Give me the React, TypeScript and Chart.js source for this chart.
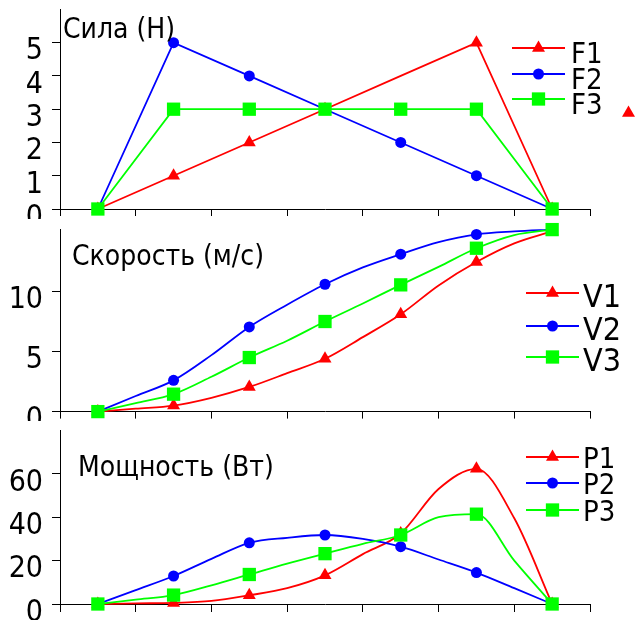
import React, { useEffect, useRef } from "react";
import { Chart, registerables } from "chart.js";

Chart.register(...registerables);

const FONT = '"DejaVu Sans Condensed", "Liberation Sans Narrow", "DejaVu Sans", sans-serif';

// ---------- data ----------
const forceX = [0.5, 1.5, 2.5, 3.5, 4.5, 5.5, 6.5];
const F1 = [0, 1, 2, 3, 4, 5, 0];
const F2 = [0, 5, 4, 3, 2, 1, 0];
const F3 = [0, 3, 3, 3, 3, 3, 0];
const F1NoMarker = [4];

const curveX = [0.5, 1, 1.5, 2, 2.5, 3, 3.5, 4, 4.5, 5, 5.5, 6, 6.5];
const V1 = [0, 0.25, 0.5, 1.15, 2.05, 3.2, 4.4, 6.2, 8.1, 10.5, 12.45, 14.0, 15.0];
const V2 = [0, 1.3, 2.6, 4.7, 7.05, 8.9, 10.6, 12.0, 13.1, 14.1, 14.75, 15.0, 15.15];
const V3 = [0, 0.7, 1.45, 2.9, 4.5, 5.9, 7.5, 9.0, 10.55, 12.05, 13.6, 14.7, 15.15];

const P1 = [0, 0.3, 0.5, 1.4, 4, 7.3, 13.2, 23, 32.5, 53, 62.3, 39.5, 0];
const P2 = [0, 6.4, 12.9, 20.8, 28.2, 30.5, 31.8, 30, 26.4, 20.5, 14.5, 7.3, 0];
const P3 = [0, 2, 4.1, 8.6, 13.6, 18.6, 23.2, 27.7, 31.8, 40, 41.4, 20, 0];

const forceTicks = [0, 1, 2, 3, 4, 5];
const speedTicks = [0, 5, 10];
const powerTicks = [0, 20, 40, 60];

const forceLabels = ["F1", "F2", "F3"];
const speedLabels = ["V1", "V2", "V3"];
const powerLabels = ["P1", "P2", "P3"];

const forceTitle = "Сила (Н)";
const speedTitle = "Скорость (м/с)";
const powerTitle = "Мощность (Вт)";

// ---------- styles ----------
const COLORS = ["#ff0000", "#0000ff", "#00ff00"];
const STYLES = ["triangle", "circle", "rect"];
const RADII = [7.5, 5.5, 9.4];

function drawMarker(ctx: CanvasRenderingContext2D, style: string, x: number, y: number, r: number, color: string) {
  ctx.save();
  ctx.fillStyle = color;
  ctx.beginPath();
  if (style === "triangle") {
    ctx.moveTo(x, y - r);
    ctx.lineTo(x + r * Math.sin((2 * Math.PI) / 3), y - r * Math.cos((2 * Math.PI) / 3));
    ctx.lineTo(x + r * Math.sin((4 * Math.PI) / 3), y - r * Math.cos((4 * Math.PI) / 3));
    ctx.closePath();
  } else if (style === "circle") {
    ctx.arc(x, y, r, 0, Math.PI * 2);
  } else {
    const s = r * Math.SQRT1_2;
    ctx.rect(x - s, y - s, 2 * s, 2 * s);
  }
  ctx.fill();
  ctx.restore();
}

const decorPlugin = {
  id: "panelDecor",
  afterDatasetsDraw(chart: any, _args: any, opts: any) {
    const ctx: CanvasRenderingContext2D = chart.ctx;
    ctx.save();
    ctx.fillStyle = "#000";
    ctx.textBaseline = "alphabetic";
    ctx.textAlign = "left";
    ctx.font = `${opts.titleSize}px ${FONT}`;
    ctx.fillText(opts.title, opts.titleX, opts.titleY);
    ctx.font = `${opts.legendSize}px ${FONT}`;
    opts.labels.forEach((label: string, i: number) => {
      const y = opts.legendY[i];
      ctx.strokeStyle = COLORS[i];
      ctx.lineWidth = 1.8;
      ctx.beginPath();
      ctx.moveTo(opts.lineX0, y);
      ctx.lineTo(opts.lineX1, y);
      ctx.stroke();
      drawMarker(ctx, STYLES[i], (opts.lineX0 + opts.lineX1) / 2, y, RADII[i], COLORS[i]);
      ctx.fillStyle = "#000";
      ctx.fillText(label, opts.textX, y + opts.textDy);
    });
    if (opts.extra) {
      const y = opts.legendY[2] + opts.extra.dy;
      drawMarker(ctx, STYLES[0], (opts.lineX0 + opts.lineX1) / 2 + opts.extra.dx, y, RADII[0], COLORS[0]);
    }
    ctx.restore();
  },
};

type Panel = {
  height: number;
  padTop: number;
  xAxisH: number;
  xTickLen: number;
  yMax: number;
  yTicks: number[];
  x: number[];
  series: number[][];
  labels: string[];
  smooth: boolean;
  hidden?: number[][];
  decor: any;
};

function buildConfig(p: Panel): any {
  const markerEvery = p.x.length > 7 ? 2 : 1;
  return {
    type: "line",
    data: {
      datasets: p.series.map((vals, i) => ({
        label: p.labels[i],
        data: p.x.map((x, j) => ({ x, y: vals[j] })),
        borderColor: COLORS[i],
        backgroundColor: COLORS[i],
        pointBorderColor: COLORS[i],
        pointBackgroundColor: COLORS[i],
        pointStyle: STYLES[i],
        pointBorderWidth: 0,
        pointRadius: p.x.map((_, j) => {
          if (j % markerEvery !== 0) return 0;
          const mi = j / markerEvery;
          if (p.hidden && p.hidden[i] && p.hidden[i].includes(mi)) return 0;
          return RADII[i];
        }),
        borderWidth: 1.8,
        cubicInterpolationMode: p.smooth ? "monotone" : "default",
        tension: 0,
        fill: false,
        clip: false,
        order: 2 - i,
      })),
    },
    options: {
      responsive: false,
      animation: false,
      events: [],
      layout: { padding: { top: p.padTop, bottom: 0, left: 0, right: 51 } },
      plugins: {
        legend: { display: false },
        tooltip: { enabled: false },
        title: { display: false },
        panelDecor: p.decor,
      },
      scales: {
        x: {
          type: "linear",
          min: 0,
          max: 7,
          ticks: { stepSize: 1, display: false },
          grid: { drawOnChartArea: false, drawTicks: true, tickLength: p.xTickLen, color: "#000", lineWidth: 1 },
          border: { display: true, color: "#000", width: 1 },
          afterFit: (s: any) => {
            s.height = p.xAxisH;
            s.paddingLeft = 0;
            s.paddingRight = 0;
            s.paddingTop = 0;
            s.paddingBottom = 0;
          },
        },
        y: {
          type: "linear",
          min: 0,
          max: p.yMax,
          afterBuildTicks: (s: any) => {
            s.ticks = p.yTicks.map((v) => ({ value: v }));
          },
          ticks: {
            autoSkip: false,
            color: "#000",
            padding: 9,
            labelOffset: 9,
            font: { family: FONT, size: 30 },
          },
          grid: { drawOnChartArea: false, drawTicks: true, tickLength: 8, color: "#000", lineWidth: 1 },
          border: { display: true, color: "#000", width: 1 },
          afterFit: (s: any) => {
            s.width = 60;
            s.paddingTop = 0;
            s.paddingBottom = 0;
            s.paddingLeft = 0;
            s.paddingRight = 0;
          },
        },
      },
    },
    plugins: [decorPlugin],
  };
}

const panels: Panel[] = [
  {
    height: 219,
    padTop: 9,
    xAxisH: 10,
    xTickLen: 7,
    yMax: 6,
    yTicks: forceTicks,
    x: forceX,
    series: [F1, F2, F3],
    labels: forceLabels,
    smooth: false,
    hidden: [F1NoMarker, [], []],
    decor: {
      title: forceTitle,
      titleSize: 28,
      titleX: 63,
      titleY: 38,
      legendSize: 29,
      labels: forceLabels,
      legendY: [48, 74, 99],
      lineX0: 512,
      lineX1: 565,
      textX: 571,
      textDy: 15,
      extra: { dx: 90, dy: 14 },
    },
  },
  {
    height: 202,
    padTop: 10,
    xAxisH: 7,
    xTickLen: 7,
    yMax: 15.2,
    yTicks: speedTicks,
    x: curveX,
    series: [V1, V2, V3],
    labels: speedLabels,
    smooth: true,
    decor: {
      title: speedTitle,
      titleSize: 28,
      titleX: 72,
      titleY: 46,
      legendSize: 32,
      labels: speedLabels,
      legendY: [74, 107, 138],
      lineX0: 526,
      lineX1: 579,
      textX: 583,
      textDy: 14,
    },
  },
  {
    height: 199,
    padTop: 6,
    xAxisH: 16,
    xTickLen: 8,
    yMax: 80,
    yTicks: powerTicks,
    x: curveX,
    series: [P1, P2, P3],
    labels: powerLabels,
    smooth: true,
    decor: {
      title: powerTitle,
      titleSize: 28,
      titleX: 78,
      titleY: 55,
      legendSize: 29,
      labels: powerLabels,
      legendY: [36, 62, 89],
      lineX0: 526,
      lineX1: 579,
      textX: 583,
      textDy: 11,
    },
  },
];

function PanelChart({ panel }: { panel: Panel }) {
  const ref = useRef<HTMLCanvasElement | null>(null);
  useEffect(() => {
    if (!ref.current) return;
    const chart = new Chart(ref.current, buildConfig(panel));
    return () => chart.destroy();
  }, [panel]);
  return (
    <canvas
      ref={ref}
      width={641}
      height={panel.height}
      style={{ display: "block", width: 641, height: panel.height }}
    />
  );
}

export default function App() {
  return (
    <div style={{ position: "absolute", top: 0, left: 0, width: 641, height: 620, background: "#fff", overflow: "hidden" }}>
      {panels.map((p, i) => (
        <PanelChart key={i} panel={p} />
      ))}
    </div>
  );
}
